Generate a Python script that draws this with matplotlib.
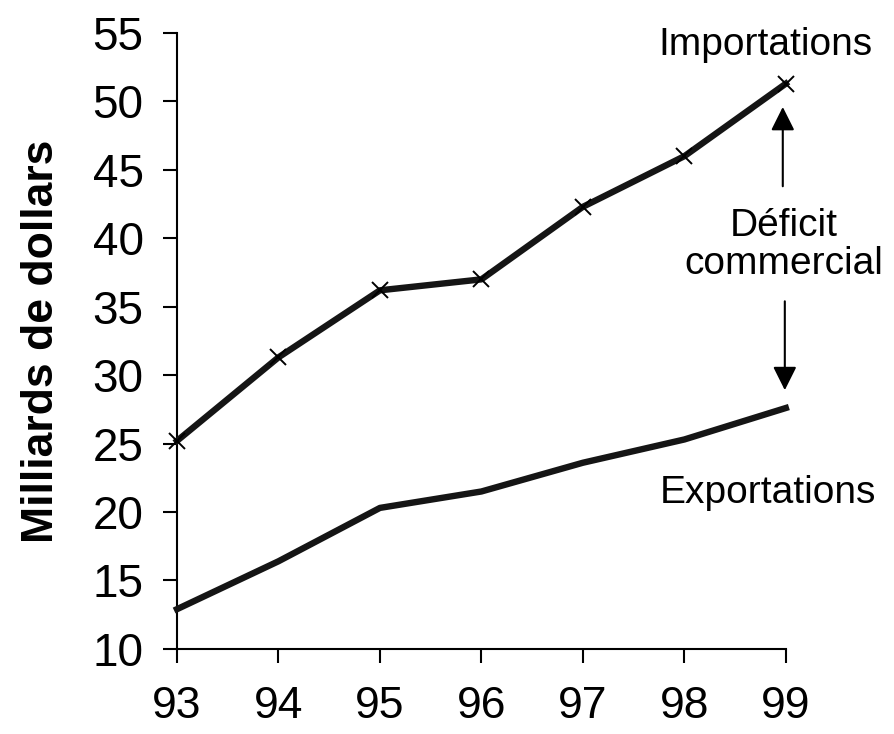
import matplotlib
matplotlib.use('Agg')
from matplotlib import pyplot as plt

years = [93, 94, 95, 96, 97, 98, 99]
importations = [25.2, 31.3, 36.2, 37.0, 42.3, 46.0, 51.3]
exportations = [12.9, 16.4, 20.3, 21.5, 23.6, 25.3, 27.6]
year_labels = ['93', '94', '95', '96', '97', '98', '99']
y_ticks = [10, 15, 20, 25, 30, 35, 40, 45, 50, 55]

plt.rcParams['font.family'] = ['Liberation Sans', 'DejaVu Sans']

fig = plt.figure(figsize=(8.94, 7.34), dpi=100)
ax = fig.add_axes([0.198, 0.116, 0.681, 0.839])

ax.plot(years, importations, color='#151515', lw=4.6, marker='x', ms=11,
        mew=1.4, mec='black', clip_on=False, zorder=3)
ax.plot(years, exportations, color='#151515', lw=4.6, clip_on=False, zorder=3)

ax.set_xlim(93, 99)
ax.set_ylim(10, 55)
ax.set_xticks(years)
ax.set_xticklabels(year_labels)
ax.set_yticks(y_ticks)
ax.tick_params(axis='both', direction='out', length=10, width=1.5,
               labelsize=33, colors='black')
ax.tick_params(axis='x', pad=17, labelsize=32)
ax.tick_params(axis='y', pad=14)
for side in ['top', 'right']:
    ax.spines[side].set_visible(False)
for side in ['left', 'bottom']:
    ax.spines[side].set_linewidth(1.5)

ax.set_ylabel('Milliards de dollars', fontsize=32, fontweight='bold', labelpad=22)

ax.text(98.8, 54.1, 'Importations', fontsize=28, ha='center', va='center')
ax.text(98.82, 21.4, 'Exportations', fontsize=28, ha='center', va='center')
ax.text(98.98, 39.5, 'Déficit\ncommercial', fontsize=28, ha='center',
        va='center', linespacing=1.05)

arrow = dict(arrowstyle='-|>', color='black', lw=1.5, mutation_scale=36)
ax.annotate('', xy=(98.97, 49.8), xytext=(98.97, 43.6), arrowprops=arrow,
            annotation_clip=False)
ax.annotate('', xy=(98.99, 28.7), xytext=(98.99, 35.6), arrowprops=arrow,
            annotation_clip=False)

fig.savefig('out.png', dpi=100)
